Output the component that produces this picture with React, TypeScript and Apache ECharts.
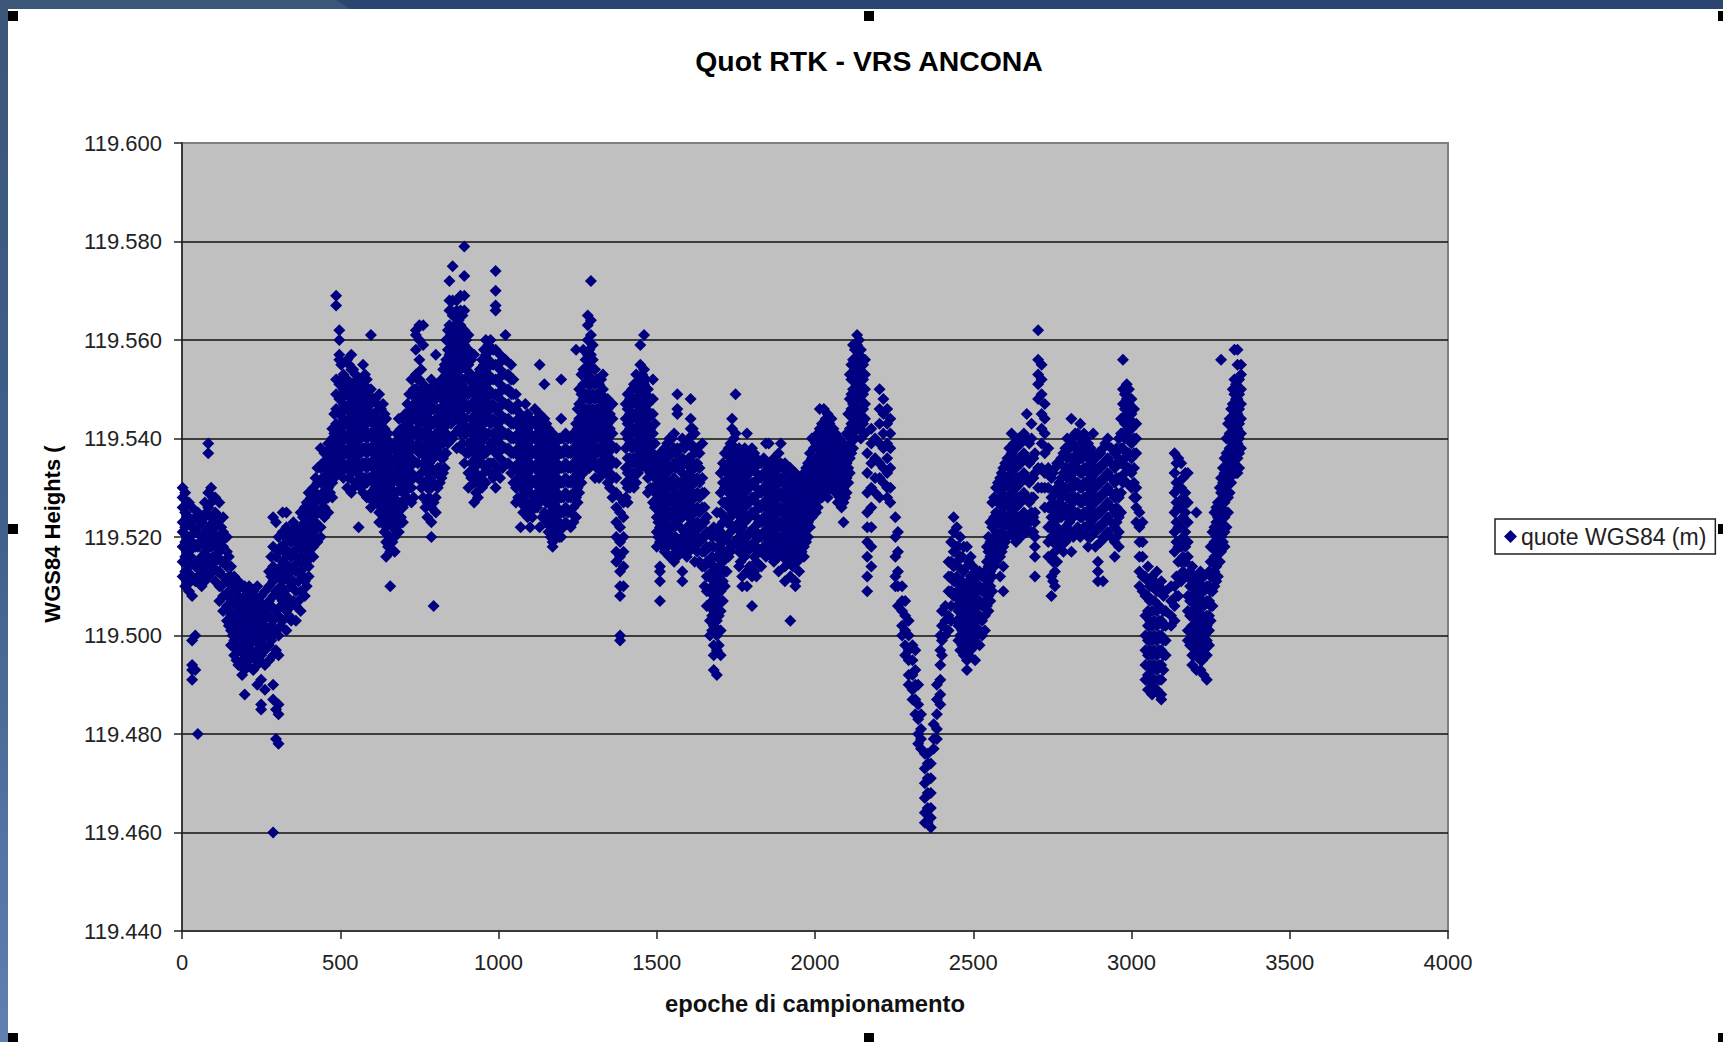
import React, { useEffect, useRef } from "react";
import * as echarts from "echarts";

const TITLE = "Quot RTK - VRS ANCONA";
const X_NAME = "epoche di campionamento";
const Y_NAME = "WGS84 Heights (";
const SERIES_NAME = "quote WGS84 (m)";

// Each row: epoch, then heights in mm above 119 m.
const epochs0to500 = [
[2,530,528,526,523,521,518,515,512],[10,529,525,522,519,516,513,510],[22,527,524,520,517,514,509],
[32,526,522,519,515,512,508,499,494,493,491],[42,524,521,518,514,511,500,493],[50,525,522,518,515,512,480],
[62,523,520,516,513,510],[72,527,524,521,517,513,511],[83,539,537,529,526,522,519,516,512],
[92,530,527,524,521,520,518,514],[105,528,525,522,518,515,511],[118,527,524,520,517,513,510,507],
[130,524,521,518,515,512,508,505],[142,520,517,514,511,508,506,503],[155,514,512,509,506,504,501,498],
[165,512,510,507,504,501,499,496],[178,511,508,505,502,499,497,494],[190,510,507,504,501,498,495,492],
[198,510,508,505,502,499,496,493,488],[212,510,507,504,501,498,495],[225,509,507,504,501,499,496,493],
[238,510,506,503,500,497,494,490],[250,508,505,502,499,496,491,486,485],[262,509,505,502,500,497,494,489],
[275,513,510,507,504,501,498,495],[288,524,518,514,511,508,503,500,496,490,487,460],
[297,523,516,513,509,505,501,497,485,479],[305,520,517,512,508,504,500,496,486,484,478],
[318,525,521,518,515,511,507,503],[330,525,522,519,516,512,508,505,501],[345,521,519,516,513,510,506,503],
[360,522,519,516,513,509,506,503],[375,525,522,519,516,513,509,505],[388,526,523,520,517,514,511,508],
[400,529,526,523,520,517,514,512],[415,530,527,524,521,518,516],[428,534,531,528,525,522,519],
[438,538,534,531,528,525,522,520],[450,537,534,531,528,526,524],[462,539,536,533,530,528,525],
[475,542,540,537,534,531,528],
[16,524,520,517,513,511],[28,523,518,516,511],[56,524,519,514,511],[77,525,520,515,518],
[98,528,523,519,516,513],[112,523,520,516,513],[124,522,519,515,510],[148,516,512,509,505,502],
[160,510,507,503,500],[172,509,506,503,500,497,495],[184,510,506,503,500,497],[205,509,506,503,500,497,494],
[218,508,505,502,499,497],[232,508,505,502,499,495],[244,507,504,501,498,495],[256,506,503,500,498],
[282,516,512,506,502,499],[312,518,514,510,506,502],[324,520,517,513,509,506],[338,520,517,514,511,507,504],
[352,523,520,517,514,511,507],[368,521,518,515,511,507],[382,524,521,518,515,512],[394,527,524,521,518,515,510],
[408,528,525,522,519,516],[422,532,529,526,523,520],[444,535,532,529,527],[468,538,535,532,529],[481,545,541,538,535,532],
];
const epochs500to1100 = [
[487,569,567,552,549,546,543,540,537,534],[497,562,560,557,556,551,548,545,542,539,536,533],
[510,553,550,547,544,541,538,535,532],[522,556,552,549,546,543,540,537,534,530],
[535,557,554,551,548,545,542,539,536,533,529],[548,553,551,548,545,542,539,536,531],
[558,550,547,544,541,538,535,531,522],[572,555,551,548,545,542,538,535,532,529],
[584,552,549,546,543,540,537,534,531,528],[597,561,550,547,544,541,538,535,529,526],
[610,548,545,542,539,536,533,530,527],[623,549,546,543,540,537,534,531,528,525,523],
[635,547,544,541,538,535,532,529,526,523],[645,544,540,537,534,531,528,525,522,519,516],
[658,539,536,533,530,527,524,520,517,510],[672,539,536,533,529,526,523,520,517],
[685,544,540,537,534,531,527,524,521],[698,544,541,538,535,532,529,526,523],
[712,547,543,540,537,534,531,528],[725,552,549,546,542,539,536,533,530,527],
[739,562,561,558,553,550,547,544,541,538],[750,563,560,556,552,549,546,543,540,537],
[762,563,559,551,548,545,541,538,535,531,528],[775,548,545,542,539,536,533,530,527,524],
[788,552,549,546,543,540,537,534,530,526,523,520],[795,549,546,543,539,536,531,527,506],
[802,557,551,548,544,541,538,533,528,525],[815,549,546,543,540,537,534,531],
[825,554,551,548,545,542,539,536,533],[835,560,556,553,550,547,544,541,537],
[845,572,568,566,563,560,557,554,551,548,545],[855,575,568,565,562,558,555,552,549,546,540],
[868,568,566,563,560,557,554,551,548,544,538],[880,569,566,563,560,557,554,551,548,545,541,538],
[892,579,573,569,566,562,559,556,552,549,547,544,541,535],[905,561,558,555,552,549,546,542,539,537,533,530],
[923,557,551,549,546,543,540,537,534,531,527],[935,553,550,547,544,541,538,535,531,528],
[948,556,553,550,547,544,541,538,535,530],[960,560,557,554,551,548,545,541,537,534,531],
[975,560,558,555,552,549,546,543,539,535,533],[991,574,570,567,566,558,555,552,549,546,543,540,537,533,530],
[1005,557,554,551,548,545,542,539,536,532],[1022,561,556,553,550,547,544,541,538,535],
[1040,555,552,549,546,543,540,537,533],[1055,549,546,543,540,537,534,530,527],
[1070,545,542,539,536,533,530,527,522],[1085,547,544,541,538,535,532,529,526],
[503,555,552,549,546,543,540,537,534],[516,552,549,546,543,540,537,534],[528,555,551,547,544,541,538,535,532],
[541,554,550,547,544,540,537,534,530],[553,552,549,546,543,540,537,533],[565,552,549,546,543,540,537,534,530],
[578,553,550,547,544,541,538,535,532],[590,550,547,544,541,538,535,532,528],[604,548,545,543,540,537,534,531,528],
[616,547,544,541,538,535,532,529],[629,546,543,540,538,535,532,529,526],[640,545,542,539,536,533,530,527,524,521],
[651,541,538,535,532,529,526,523,518],[665,538,535,531,528,525,522,519],[678,541,538,535,532,529,525,522],
[692,542,539,536,533,530,527,524],[705,545,542,539,536,533,530,527],[718,549,545,542,539,536,533,530],
[732,550,547,544,541,538,535,532,528],[745,552,548,545,542,539,535,532],[756,554,550,547,544,541,537,533,530],
[769,549,546,543,540,537,534,531,526],[781,550,547,544,541,538,535,532,528],[808,550,546,543,540,537,534,530],
[820,552,548,545,542,539,536,532],[830,555,552,549,546,543,540,537,534],[840,562,558,555,552,549,546,543,539],
[850,566,561,558,555,552,549,546,543],[862,563,559,556,553,550,547,545,541],[874,564,561,558,555,552,549,546,542],
[886,565,561,558,555,552,549,546,543,539],[898,560,557,554,550,547,544,541,537],[914,556,553,550,547,544,541,538,535,532],
[929,552,548,545,542,539,536,533,529],[941,554,551,548,545,542,539,536,532],[954,558,555,552,549,546,543,540,537,533],
[968,559,556,553,550,547,544,541,538,535],[983,558,555,552,549,547,544,541,538,535,532],[998,555,552,549,546,543,540,537,534],
[1013,556,553,550,547,544,541,538,534],[1031,553,550,547,544,541,538,535],[1047,552,549,546,543,540,537,534,531],
[1062,547,544,541,538,535,532,528],[1078,543,540,537,534,531,528,525],[1092,545,542,539,536,533,530,527,524],
];
const epochs1100to1500 = [
[1100,544,541,538,535,532,529,525,522],[1115,546,543,540,537,534,531,528,526],
[1130,555,545,542,539,536,533,530,527,522],[1145,551,544,541,538,535,532,529,525],
[1158,542,539,536,533,530,527,524,521],[1171,541,538,535,532,529,526,523,519,518],
[1185,538,535,532,529,526,523,521],[1198,552,544,540,537,534,531,528,525,522,520],
[1212,541,538,535,532,529,526,523],[1228,540,537,534,531,528,525,522],
[1245,558,543,540,537,534,531,528,524],[1255,550,547,544,541,538,535,532,529],
[1268,558,554,551,548,545,542,539,536,533],[1282,565,563,560,557,554,551,548,544,541,538,535],
[1292,572,564,561,557,554,551,548,545,542,539,536],[1305,554,551,548,544,541,538,535,532],
[1318,551,548,545,542,538,535,532],[1330,553,550,547,544,541,538,535,533],
[1345,548,546,543,540,537,534,531],[1360,547,544,541,538,535,532,528],
[1372,538,535,532,529,526,523,520,517,515],[1384,528,525,522,519,516,513,510,508,500,499],
[1395,527,524,520,517,514,510],[1408,549,546,543,540,536,533,530,527],
[1422,550,547,544,541,538,535,532],[1435,553,550,547,544,541,538,535,531],
[1448,559,555,552,549,546,543,540,537,534],[1460,561,554,551,548,545,542,539,536],
[1472,550,547,544,541,538,535,532,529],[1488,552,548,545,541,537,534,530,527],
[1107,543,540,537,534,531,527,524],[1122,544,541,538,535,532,529,526],[1138,543,540,537,534,531,528,524],
[1151,543,540,537,534,531,527,523],[1165,540,537,534,531,528,525,522,520],[1178,539,536,533,530,527,524,520],
[1192,540,537,534,531,528,525,523,520],[1205,540,537,534,531,528,525,522],[1220,540,537,534,531,528,525],
[1237,541,538,535,532,529,526,523],[1250,546,542,539,536,533,530,527],[1262,553,549,546,543,540,537,534,531],
[1275,556,553,549,546,543,540,537,534],[1287,558,555,552,549,546,543,540,537,534],[1298,559,556,552,549,546,543,540,537],
[1311,552,549,546,543,540,537,534],[1324,552,549,546,543,540,537,534],[1338,548,545,542,539,536,533],
[1352,545,542,539,536,533,530],[1402,547,544,541,538,534,531,528],[1415,548,545,542,539,536,533,530],
[1428,551,548,545,542,539,536,533,530],[1441,551,548,545,542,539,536,533],[1454,553,550,547,544,541,538,535],
[1466,552,549,546,543,540,537,534],[1480,548,545,542,539,536,533,530],[1494,543,539,535,532,529,526],
];
const epochs1500to2000 = [
[1500,536,533,530,527,524,521,518],[1510,537,534,531,528,525,522,519,514,513,511,507],
[1525,538,535,532,529,526,523,520,517],[1540,540,537,534,531,528,525,522,519,516],
[1555,541,538,535,532,528,525,522,518,515],[1565,549,546,545,538,535,531,527,524,519,516],
[1581,540,536,533,530,527,524,520,517,513,511],[1595,539,535,532,529,526,522,519,516],
[1607,548,544,542,539,534,531,528,525,522,518],[1620,541,537,534,531,528,525,521,518,515],
[1635,537,534,531,528,525,522,519,515],[1644,539,532,529,526,523,520,517,514],
[1658,524,521,518,515,512,509,506],[1668,521,518,515,512,509,506,503,500],
[1680,522,518,514,511,508,505,502,498,496,493],[1690,525,520,516,512,509,506,503,500,497,492],
[1702,533,529,525,521,517,513,509,505,501,496],[1715,537,534,530,527,524,520,517,513,510],
[1727,538,535,532,529,526,523,519,516],[1738,544,542,537,534,531,528,525,522,518],
[1749,549,541,538,535,532,529,526,522],[1760,538,535,532,529,526,523,520,517,514],
[1770,537,534,531,528,525,522,518,512,510],[1785,541,537,534,531,527,524,520,517,513,510],
[1801,538,535,531,528,525,521,518,512,506],[1815,536,533,530,527,524,521,518,515,512],
[1830,535,532,529,526,523,520,517,514],[1845,539,535,532,529,526,523,520,516],
[1854,539,534,531,528,525,522,519,517],[1870,536,533,530,527,524,521,518,515],
[1885,537,534,531,528,525,522,519,516,513],[1892,539,535,532,529,526,523,520,518],
[1905,535,532,529,526,523,520,517,514,511],[1922,534,531,528,525,522,519,516,512,503],
[1938,533,530,527,524,521,518,515,511,510],[1950,531,528,525,522,519,516,513],
[1965,533,530,527,524,521,518,516],[1978,535,532,529,526,523,520],[1990,540,536,533,530,527,524],
[1505,535,532,529,526,523,520],[1518,536,533,530,527,524,521,518],[1533,539,536,533,530,527,524,521,518],
[1548,540,537,534,530,527,524,520],[1560,537,534,529,526,523,520,517],[1574,538,534,531,528,525,522,518],
[1588,538,535,531,528,525,521,518],[1601,540,536,533,530,527,524,520,517],[1614,542,538,535,532,529,526,523,519],
[1628,538,535,532,529,526,523,520,517],[1651,529,526,523,520,517,514,510],[1675,520,516,513,510,507,504,501],
[1696,522,518,514,510,507,504,501,498],[1709,535,531,527,523,519,515,511,507],[1721,537,533,530,527,523,520,517,513],
[1733,539,536,533,530,527,524,521,517],[1744,540,537,534,531,528,525,522,519],[1754,537,534,531,528,525,522,519],
[1765,536,533,530,527,524,521,518,515],[1778,538,535,532,529,526,523,519,516],[1793,536,533,530,527,524,521,518,514],
[1808,537,534,531,528,525,522,519,516,513],[1822,535,532,529,526,523,520,517],[1838,536,533,530,527,524,521,518],
[1850,535,532,529,526,523,520],[1862,534,531,528,525,522,519,516],[1878,535,532,529,526,523,520,517],
[1898,534,531,528,525,522,519,516],[1914,533,530,527,524,521,518,515],[1930,532,529,526,523,520,517,514],
[1944,530,527,524,521,518,515],[1958,532,529,526,523,520,517],[1972,534,531,528,525,522,519],
[1984,537,534,531,528,525,522],[1996,538,535,532,529,526],
];
const epochs2000to2500 = [
[2003,539,536,533,530,527,525],[2015,546,542,539,536,533,530,528],[2028,546,541,538,535,532,529],
[2040,545,542,539,536,533,530,528],[2052,544,541,538,535,532,530],[2065,541,538,535,532,529],
[2078,540,537,534,531,528],[2090,539,536,533,530,527,523],[2100,541,538,535,532,529],
[2110,553,548,545,542,539,536,533],[2120,559,556,553,550,547,544,541,538],[2133,561,559,556,552,549,546,543],
[2145,558,555,552,549,546,543,540],[2158,556,553,550,547,544,541],[2165,537,533,529,525,522,519,516,512,509],
[2178,542,539,535,530,526,522,518,514],[2190,540,536,532,529],[2204,550,546,543,539,535,532,528],
[2216,548,545,541,538,534,531],[2228,546,543,539,536,533,530,528],[2238,544,541,538,534,530,527],
[2254,524,520,516,512,510],[2262,521,517,513,510,506],[2275,510,507,505,502,500],[2285,507,504,501,498,496],
[2296,503,500,497,495,492,490],[2308,498,495,492,489,487],[2317,497,493,490,487,484],[2326,490,486,483,480,478],
[2335,484,481,479,477],[2347,476,473,470,467,464,462],[2356,476,474,471,468,465,462],[2366,474,471,468,465,463,461],
[2375,482,479,477],[2385,490,487,484,481,479],[2396,500,497,494,491,488,486],[2401,505,502,499,496],
[2412,506,503,500],[2422,515,512,509,504,501],[2430,519,515,512,509,506,503],[2438,524,521,517,514,511,508],
[2448,522,518,515,512,509,506,503],[2459,520,516,510,507,503,500,497],[2470,518,513,509,506,503,500,496],
[2480,518,514,510,507,504,501,497,495,493],[2492,516,512,509,506,503,500,497],
[2009,541,538,535,532,529,526],[2022,543,540,537,534,531,528],[2034,544,541,538,535,532,529],
[2046,543,540,537,534,531],[2058,542,539,536,533,530],[2072,539,536,533,530,527],[2084,538,535,532,529,526],
[2095,537,534,531,528],[2105,545,541,537,534,531],[2115,555,552,549,546,543,540,537],[2126,558,555,552,549,546,543,540],
[2139,560,557,554,551,548,545,542],[2152,555,552,549,546,543],
[2453,518,514,508,505,502,499],[2465,516,511,507,504,501,498],[2486,515,511,508,505,502,499,496],[2499,514,511,508,505,502,499],
];
const epochs2500to3000 = [
[2506,513,510,507,504,501,498,495],[2520,513,510,507,504,501,498],[2537,513,510,507,504,501],
[2548,520,517,514,511,508,505],[2560,527,522,518,515,512,509],[2572,530,525,521,518,515],
[2585,532,528,524,520,516,512],[2595,534,530,526,522,518,514,509],[2608,536,532,528,524,520],
[2621,541,537,533,529,525,521],[2635,538,534,530,526,522,519],[2650,539,535,531,527,523,520],
[2669,545,540,536,532,528,524,521],[2684,543,540,536,532,528,525,521],[2695,537,533,525,523,520,518,516,512],
[2705,562,556,553,551,548,534,530],[2716,555,552,549,545,542,539,534,530],[2726,547,544,541,537,533,530,526],
[2737,538,534,530,526,522,519,516],[2747,532,528,524,520,516,512,508],[2758,534,529,525,521,517,513,510],
[2772,535,531,527,524,521,518],[2785,537,533,529,525,521,517],[2797,540,536,532,528,524,521],
[2810,544,540,536,532,528,525,521,517],[2822,541,538,535,531,528,525,521],[2838,543,540,536,533,530,527,524,520],
[2850,541,538,534,531,528,525,522],[2863,539,536,533,530,527,524,522,520,518],[2879,541,537,534,531,528,525,522],
[2894,537,534,531,528,525,522,515,513,511],[2910,538,535,532,529,526,523,520,511],[2925,540,536,533,530,527,524,521],
[2947,537,534,531,528,525,522,519,516],[2960,540,536,532,528,524,521,518],[2973,556,550,547,544,541,538,535,531],
[2985,551,548,545,541,537,534,531],
[2513,512,509,506,503,500],[2528,512,509,506,503,500],[2543,518,515,512,509,506],[2554,523,519,516,513,510,507],
[2566,528,524,520,517,514],[2578,531,527,523,519,516],[2590,533,529,525,521,517],[2601,535,531,527,523,519],
[2614,538,534,530,526,522],[2628,539,535,531,527,523,520],[2642,540,536,532,528,524,521],[2660,541,537,533,529,525,522],
[2677,539,535,531,527,523],[2690,536,532,528,524,521],[2752,533,527,523,519,515,511],[2765,535,530,526,522,519,515],
[2778,536,532,528,524,520],[2791,538,534,530,526,522,519],[2804,538,534,530,526,523,520],[2816,539,536,533,530,527,524,520],
[2830,541,537,534,531,528,525,522],[2844,539,536,533,530,527,524,521],[2857,540,537,534,531,528,525,522],
[2871,538,535,532,529,526,523,520],[2886,536,533,530,527,524,521,518],[2902,537,534,531,528,525,522,519],
[2917,539,535,532,529,526,523,520],[2936,538,535,532,529,526,523,520],[2953,538,535,532,529,526,523,520],
[2967,544,541,538,535,532,529,525],[2979,549,546,543,540,536,533],[2992,550,547,544,540,537,534],
];
const epochs3000to3346 = [
[3000,548,545,542,539,536,533,530],[3015,543,540,537,530,528,526,523],[3025,525,522,519,516,513,510],
[3035,523,519,516,512,509],[3052,514,511,508,505,502,499,496,492,489],[3065,512,510,505,502,499,496,493,490,488],
[3080,513,509,505,502,499,496,493,489],[3094,511,509,503,500,497,494,491,488,487],[3108,509,505,502,499,496],
[3125,510,507,504,502],[3136,537,533,529,525,521,517,510,506,503],[3148,536,530,526,522,518,515,508],
[3157,535,530,526,522,518,515,511],[3170,533,529,525,521,518,515],[3178,533,527,523,519,516,512,508,505,501,499],
[3192,514,511,508,505,502,499,496,494],[3205,525,512,509,506,503,500,497,493],[3218,513,510,507,504,501,498,495,493],
[3228,512,509,506,503,500,497,492],[3238,510,507,504,502,499,496,491],[3250,518,515,512,509,506,503],
[3262,525,522,519,516,513,510],[3273,527,524,521,518,515,512],[3283,556,532,529,526,523,520,517],
[3294,536,533,530,527,524,521,518],[3305,543,540,537,534,531,528,525],[3315,546,543,540,537,534,531],
[3325,558,552,549,546,543,540,537,534],[3335,558,555,548,545,542,539,536,533],[3346,555,553,550,547,544,541,538],
[3008,546,543,540,537,534,531,528],[3044,512,508,504,500,497,494,491],[3058,510,507,503,500,497,494,491],
[3072,511,507,503,500,497,494,491],[3087,510,506,503,500,497,494,491,488],[3101,508,505,502,499,496,493],
[3142,535,531,527,523,519,512,508],[3163,532,528,524,520,516,513],[3185,513,510,507,504,501,498],
[3198,511,508,505,502,499,496],[3212,511,508,505,502,499,496],[3224,510,507,504,501,498,495],
[3245,513,510,507,504,501,498],[3256,521,518,515,512,509,506],[3268,526,523,520,517,514,511],
[3279,530,527,524,521,518,515],[3289,534,531,528,525,522,519],[3300,540,537,534,531,528,525,522],
[3310,544,541,538,535,532,529],[3320,550,547,544,541,538,535],[3330,551,548,545,542,539,536,533],[3340,552,549,546,543,540,537,534],
];

const rows = [...epochs0to500, ...epochs500to1100, ...epochs1100to1500, ...epochs1500to2000, ...epochs2000to2500, ...epochs2500to3000, ...epochs3000to3346];
const points: number[][] = [];
rows.forEach(([x, ...ys]) => ys.forEach((mm) => points.push([x, 119 + mm / 1000])));

const handles = [[8, 11], [864, 11], [8, 524], [8, 1033], [864, 1033], [1718, 11], [1718, 524], [1718, 1033]];

export default function App() {
  const ref = useRef<HTMLDivElement>(null);
  useEffect(() => {
    const chart = echarts.init(ref.current!, null, { renderer: "svg" });
    const font = "'Liberation Sans', Arial, sans-serif";
    chart.setOption({
      animation: false,
      backgroundColor: "#ffffff",
      textStyle: { fontFamily: font },
      title: {
        text: TITLE, left: 864, top: 42, textAlign: "center",
        textStyle: { fontFamily: font, fontSize: 28.4, fontWeight: "bold", color: "#000" },
      },
      grid: {
        left: 182, top: 143, width: 1266, height: 788, show: true,
        backgroundColor: "#c0c0c0", borderColor: "#808080", borderWidth: 2,
      },
      legend: {
        show: true, left: 1495, top: 519, orient: "vertical",
        backgroundColor: "#ffffff", borderColor: "#222", borderWidth: 1.5,
        padding: [6, 9, 6, 9], itemWidth: 13, itemHeight: 13, itemGap: 0,
        textStyle: { fontFamily: font, fontSize: 23, color: "#222", padding: [0, 0, 0, -1] },
      },
      xAxis: {
        type: "value", min: 0, max: 4000, interval: 500,
        name: X_NAME, nameLocation: "middle", nameGap: 60,
        nameTextStyle: { fontFamily: font, fontSize: 23.8, fontWeight: "bold", color: "#111" },
        axisLine: { show: true, onZero: false, lineStyle: { color: "#222", width: 1.5 } },
        axisTick: { show: true, length: 8, lineStyle: { color: "#222", width: 1.5 } },
        axisLabel: { fontFamily: font, fontSize: 22, color: "#222", margin: 20, formatter: (v: number) => String(v) },
        splitLine: { show: false },
      },
      yAxis: {
        type: "value", min: 119.44, max: 119.6, interval: 0.02,
        axisLine: { show: true, lineStyle: { color: "#222", width: 1.5 } },
        axisTick: { show: true, length: 8, lineStyle: { color: "#222", width: 1.5 } },
        axisLabel: { fontFamily: font, fontSize: 22, color: "#222", margin: 20, formatter: (v: number) => v.toFixed(3) },
        splitLine: { show: true, showMaxLine: false, showMinLine: false, lineStyle: { color: "#111", width: 1.5 } },
      },
      series: [{
        name: SERIES_NAME, type: "scatter", data: points,
        symbol: "diamond", symbolSize: 12,
        itemStyle: { color: "#000080", opacity: 1 },
        large: false, silent: true,
      }],
      graphic: [
        { type: "rect", silent: true, shape: { x: 0, y: 0, width: 1723, height: 9 }, style: { fill: "#2b4570" } },
        { type: "polygon", silent: true, shape: { points: [[0, 0], [336, 0], [350, 9], [0, 9]] }, style: { fill: "#3b5679" } },
        { type: "rect", silent: true, shape: { x: 0, y: 0, width: 8, height: 1042 }, style: {
          fill: new echarts.graphic.LinearGradient(0, 0, 0, 1, [{ offset: 0, color: "#3b5679" }, { offset: 0.5, color: "#3f5f8c" }, { offset: 1, color: "#6180b0" }]),
        } },
        ...handles.map(([x, y]) => ({ type: "rect", silent: true, shape: { x, y, width: 10, height: 10 }, style: { fill: "#000" } })),
        {
          type: "text", silent: true, x: 52, y: 534, rotation: Math.PI / 2,
          style: { text: Y_NAME, fontFamily: font, fontSize: 22, fontWeight: "bold", fill: "#000", textAlign: "center", textVerticalAlign: "middle" },
        },
      ],
    });
    return () => chart.dispose();
  }, []);
  return <div ref={ref} style={{ position: "absolute", left: 0, top: 0, width: 1723, height: 1042 }} />;
}
